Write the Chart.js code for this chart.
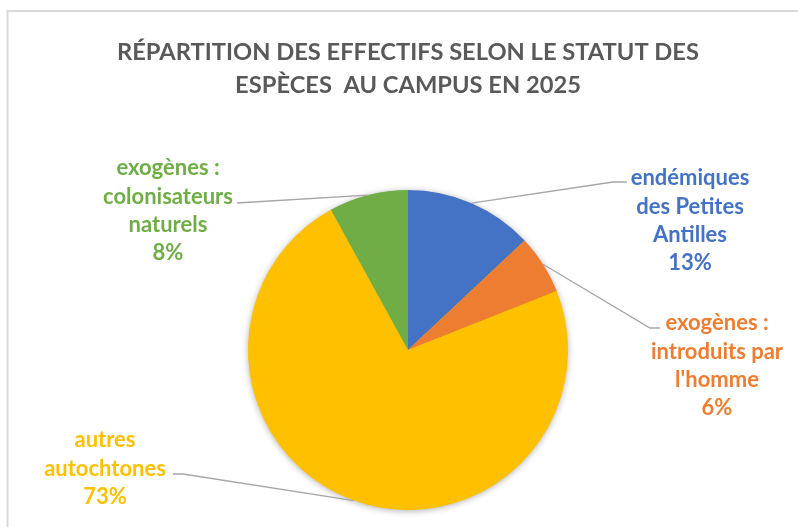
<!DOCTYPE html>
<html>
<head>
<meta charset="utf-8">
<script src="https://cdn.jsdelivr.net/npm/chart.js@4"></script>
<style>
  html, body { margin: 0; padding: 0; background: #ffffff; }
  #wrap { position: relative; width: 798px; height: 527px; }
</style>
</head>
<body>
<div id="wrap"><canvas id="c" width="798" height="527"></canvas></div>
<script>
// ---- data ----
const titleLines = ['RÉPARTITION DES EFFECTIFS SELON LE STATUT DES', 'ESPÈCES  AU CAMPUS EN 2025'];
const categories = ['endémiques des Petites Antilles', "exogènes : introduits par l'homme", 'autres autochtones', 'exogènes : colonisateurs naturels'];
const labelLines = [['endémiques', 'des Petites', 'Antilles'], ['exogènes :', 'introduits par', "l'homme"], ['autres', 'autochtones'], ['exogènes :', 'colonisateurs', 'naturels']];
const values = [13, 6, 73, 8];
const colors = ['#4472C4', '#ED7D31', '#FFC000', '#70AD47'];

// ---- layout of the callouts (style only) ----
const FONT = 'Lato, "Open Sans", sans-serif';
const callouts = [
  { cx: 690, y0: 178, elbow: [613, 182], end: [627, 182] },
  { cx: 717, y0: 323, elbow: [650, 328], end: [660, 328] },
  { cx: 105, y0: 440, elbow: [183, 474], end: [173, 474] },
  { cx: 168, y0: 168, elbow: [253, 202], end: [237, 203] }
];

function fitFont(ctx, text, width, weight) {
  let s = 30;
  ctx.font = weight + ' ' + s + 'px ' + FONT;
  const w = ctx.measureText(text).width;
  return s * width / w;
}

const framePlugin = {
  id: 'frame',
  beforeDraw(chart) {
    const ctx = chart.ctx;
    ctx.save();
    ctx.fillStyle = '#ffffff';
    ctx.fillRect(0, 0, chart.width, chart.height);
    ctx.strokeStyle = '#D9D9D9';
    ctx.lineWidth = 2;
    ctx.beginPath();
    ctx.moveTo(7.5, chart.height + 5);
    ctx.lineTo(7.5, 11);
    ctx.lineTo(chart.width + 5, 11);
    ctx.stroke();
    // title
    const ts = fitFont(ctx, titleLines[0], 582, 'bold');
    ctx.font = 'bold ' + ts.toFixed(2) + 'px ' + FONT;
    ctx.fillStyle = '#595959';
    ctx.textAlign = 'center';
    ctx.textBaseline = 'alphabetic';
    ctx.fillText(titleLines[0], 408, 60);
    ctx.fillText(titleLines[1], 408, 93);
    ctx.restore();
  },
  beforeDatasetsDraw(chart) {
    const arc = chart.getDatasetMeta(0).data[0];
    if (!arc) return;
    const ctx = chart.ctx;
    ctx.save();
    ctx.shadowColor = 'rgba(0,0,0,0.35)';
    ctx.shadowBlur = 7;
    ctx.shadowOffsetX = 0;
    ctx.shadowOffsetY = 1;
    ctx.fillStyle = '#FFC000';
    ctx.beginPath();
    ctx.arc(arc.x, arc.y, arc.outerRadius - 0.5, 0, Math.PI * 2);
    ctx.fill();
    ctx.restore();
  },
  afterDatasetsDraw(chart) {
    const ctx = chart.ctx;
    const meta = chart.getDatasetMeta(0);
    const total = values.reduce((a, b) => a + b, 0);
    const ls = fitFont(ctx, 'colonisateurs', 130, 'bold');
    ctx.save();
    meta.data.forEach((arc, i) => {
      const c = callouts[i];
      const mid = (arc.startAngle + arc.endAngle) / 2;
      const px = arc.x + Math.cos(mid) * arc.outerRadius;
      const py = arc.y + Math.sin(mid) * arc.outerRadius;
      ctx.strokeStyle = '#A6A6A6';
      ctx.lineWidth = 1.3;
      ctx.beginPath();
      ctx.moveTo(px, py);
      ctx.lineTo(c.elbow[0], c.elbow[1]);
      ctx.lineTo(c.end[0], c.end[1]);
      ctx.stroke();
      const lines = labelLines[i].concat([Math.round(values[i] / total * 100) + '%']);
      ctx.font = 'bold ' + ls.toFixed(2) + 'px ' + FONT;
      ctx.fillStyle = colors[i];
      ctx.textAlign = 'center';
      ctx.textBaseline = 'middle';
      lines.forEach((t, k) => ctx.fillText(t, c.cx, c.y0 + k * 28.4));
    });
    ctx.restore();
  }
};

new Chart(document.getElementById('c'), {
  type: 'pie',
  data: {
    labels: categories,
    datasets: [{ data: values, backgroundColor: colors, borderWidth: 0 }]
  },
  options: {
    responsive: false,
    animation: false,
    layout: { padding: { left: 248, right: 230, top: 190, bottom: 17 } },
    plugins: { legend: { display: false }, tooltip: { enabled: false }, title: { display: false } }
  },
  plugins: [framePlugin]
});
</script>
</body>
</html>
